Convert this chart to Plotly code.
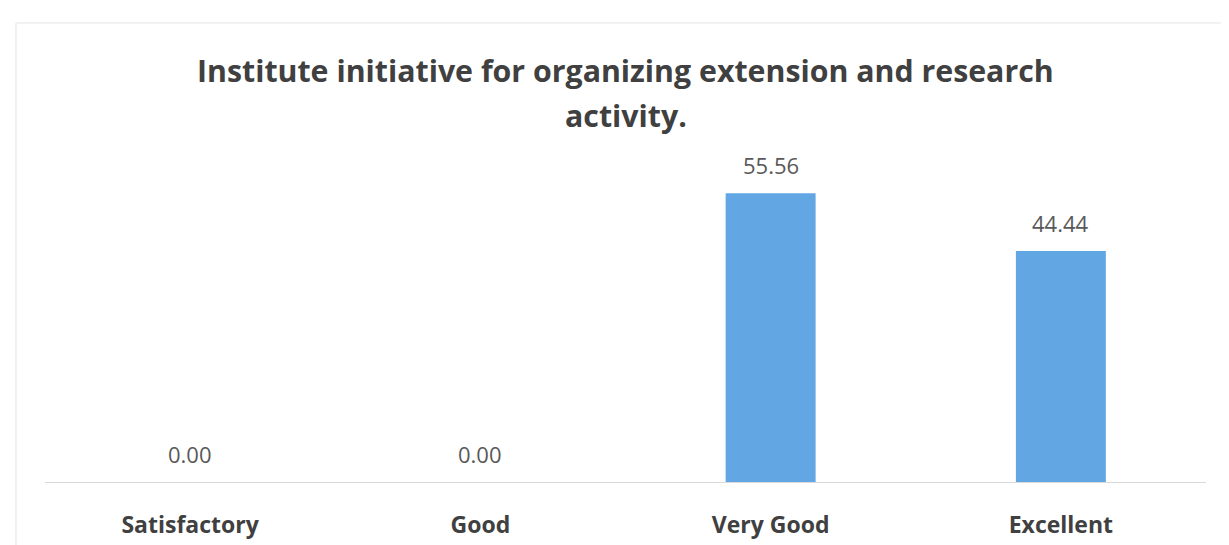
import plotly.graph_objects as go

categories = ["Satisfactory", "Good", "Very Good", "Excellent"]
values = [0.00, 0.00, 55.56, 44.44]
title_lines = ["Institute initiative for organizing extension and research", "activity."]

bar_color = "#62a7e4"
font_family = "Open Sans, Liberation Sans, sans-serif"

fig = go.Figure(
    go.Bar(
        x=categories,
        y=values,
        width=0.31,
        marker=dict(color=bar_color, line=dict(width=0)),
        hoverinfo="x+y",
    )
)

annotations = []
for c, v in zip(categories, values):
    annotations.append(
        dict(
            x=c, y=v, xref="x", yref="y",
            text=f"{v:.2f}",
            showarrow=False,
            yanchor="bottom",
            yshift=11,
            font=dict(family=font_family, size=22, color="#595959"),
        )
    )

# title lines
annotations.append(dict(
    x=0.5, y=1.355, xref="paper", yref="paper", text=title_lines[0],
    showarrow=False, yanchor="middle", xanchor="center",
    font=dict(family=font_family, size=30.3, color="#404040", weight="bold"),
))
annotations.append(dict(
    x=0.5, y=1.204, xref="paper", yref="paper", text=title_lines[1],
    showarrow=False, yanchor="middle", xanchor="center",
    font=dict(family=font_family, size=30.3, color="#404040", weight="bold"),
))

# faint chart-area border (as in the scanned chart)
shapes = [dict(
    type="rect", xref="paper", yref="paper",
    x0=-0.025, x1=1.025, y0=-0.35, y1=1.51,
    line=dict(color="#e4e4e4", width=1), fillcolor="rgba(0,0,0,0)",
    layer="below",
)]

fig.update_layout(
    width=1229,
    height=545,
    margin=dict(l=37, r=31, t=170, b=71),
    paper_bgcolor="white",
    plot_bgcolor="white",
    showlegend=False,
    annotations=annotations,
    shapes=shapes,
    xaxis=dict(
        type="category",
        showline=True,
        linecolor="#d9d9d9",
        linewidth=1,
        showgrid=False,
        zeroline=False,
        ticks="",
        ticklabelstandoff=22,
        tickfont=dict(family=font_family, size=23, color="#404040", weight="bold"),
    ),
    yaxis=dict(
        range=[0, 58.5],
        visible=False,
        showgrid=False,
        zeroline=False,
    ),
)

fig.write_html("out.html")
